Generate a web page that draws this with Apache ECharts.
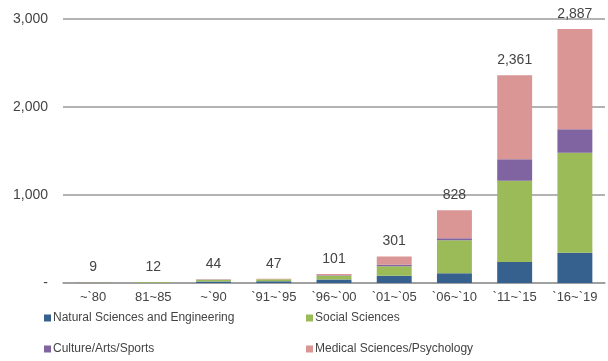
<!DOCTYPE html>
<html>
<head>
<meta charset="utf-8">
<script src="https://cdn.jsdelivr.net/npm/echarts@6/dist/echarts.min.js"></script>
<style>
  html, body { margin: 0; padding: 0; background: #fff; }
  #chart { width: 608px; height: 361px; }
</style>
</head>
<body>
<div id="chart"></div>
<script>
// Period categories along the x axis
const periods = ['~`80', '81~85', '~`90', '`91~`95', '`96~`00', '`01~`05', '`06~`10', '`11~`15', '`16~`19'];

// Counts per field for each period (stacked)
const naturalSciences = [3, 4, 18, 20, 40, 83, 110, 239, 344];
const socialSciences  = [3, 6, 18, 22, 42, 107, 375, 924, 1137];
const cultureArts     = [1, 1, 3, 2, 7, 18, 23, 243, 265];
const medicalPsych    = [2, 1, 5, 3, 12, 93, 320, 955, 1141];

const seriesNames = [
  'Natural Sciences and Engineering',
  'Social Sciences',
  'Culture/Arts/Sports',
  'Medical Sciences/Psychology'
];

// Y axis tick values
const yTicks = [0, 1000, 2000, 3000];

const totals = periods.map((_, i) =>
  naturalSciences[i] + socialSciences[i] + cultureArts[i] + medicalPsych[i]);

const colors = ['#36618f', '#9bbb59', '#8064a2', '#d99694'];
const font = 'Liberation Sans';
const textColor = '#444';

const chart = echarts.init(document.getElementById('chart'), null, { renderer: 'canvas' });

function barSeries(name, data, idx, withLabel) {
  const s = {
    name: name,
    type: 'bar',
    stack: 'total',
    barWidth: '58%',
    data: data,
    itemStyle: { color: colors[idx] },
    emphasis: { disabled: true }
  };
  if (withLabel) {
    s.label = {
      show: true,
      position: 'top',
      distance: 8,
      color: textColor,
      fontFamily: font,
      fontSize: 14,
      formatter: p => totals[p.dataIndex].toLocaleString('en-US')
    };
  }
  return s;
}

function legendAt(name, left, top) {
  return {
    data: [name],
    left: left,
    top: top,
    icon: 'rect',
    itemWidth: 7,
    itemHeight: 7,
    itemGap: 2,
    padding: 0,
    textStyle: { fontFamily: font, fontSize: 12, color: textColor, padding: [0, 0, 0, -3] }
  };
}

chart.setOption({
  animation: false,
  textStyle: { fontFamily: font },
  grid: { left: 63, right: 3, top: 19, bottom: 78, containLabel: false },
  legend: [
    legendAt(seriesNames[0], 44, 312),
    legendAt(seriesNames[1], 306, 312),
    legendAt(seriesNames[2], 44, 343),
    legendAt(seriesNames[3], 306, 343)
  ],
  xAxis: {
    type: 'category',
    data: periods,
    axisLine: { lineStyle: { color: '#9a9a9a', width: 1.5 } },
    axisTick: { show: false },
    axisLabel: { color: textColor, fontSize: 13, fontFamily: font, margin: 8 }
  },
  yAxis: {
    type: 'value',
    min: yTicks[0],
    max: yTicks[yTicks.length - 1],
    interval: yTicks[1] - yTicks[0],
    axisLine: { show: false },
    axisTick: { show: false },
    splitLine: { lineStyle: { color: '#9a9a9a', width: 1.5 } },
    axisLabel: {
      color: textColor,
      fontSize: 14,
      fontFamily: font,
      margin: 15,
      formatter: v => v === 0 ? '-' : v.toLocaleString('en-US')
    }
  },
  series: [
    barSeries(seriesNames[0], naturalSciences, 0, false),
    barSeries(seriesNames[1], socialSciences, 1, false),
    barSeries(seriesNames[2], cultureArts, 2, false),
    barSeries(seriesNames[3], medicalPsych, 3, true)
  ]
});
</script>
</body>
</html>
